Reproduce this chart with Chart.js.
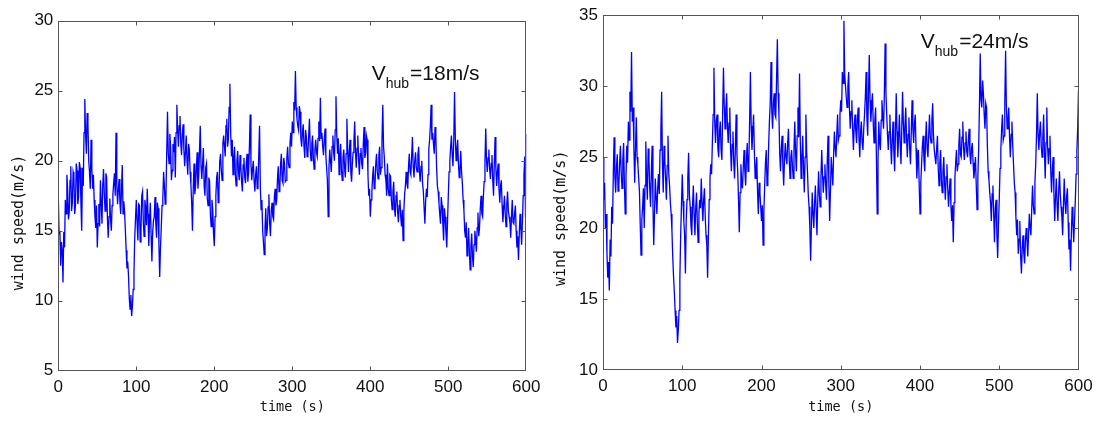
<!DOCTYPE html>
<html><head><meta charset="utf-8">
<script src="https://cdn.jsdelivr.net/npm/chart.js@4.4.0/dist/chart.umd.min.js"></script>
<style>
html,body{margin:0;padding:0;background:#fff;}
#wrap{position:relative;width:1101px;height:424px;overflow:hidden;}
canvas{position:absolute;top:0;}
</style></head><body>
<div id="wrap">
<canvas id="c1" width="550" height="424" style="left:0"></canvas>
<canvas id="c2" width="551" height="424" style="left:550px"></canvas>
</div>
<script>
// ---- data ----
const timeStep = 1; // seconds between samples
const xTickLabels = [0, 100, 200, 300, 400, 500, 600];
const yTickLabels18 = [5, 10, 15, 20, 25, 30];
const yTickLabels24 = [10, 15, 20, 25, 30, 35];
const xTitle = 'time (s)';
const yTitle = 'wind speed(m/s)';
const note18 = ['V', 'hub', '=18m/s'];
const note24 = ['V', 'hub', '=24m/s'];

const wind18 = [
17.5,14.8,15.0,12.5,14.2,13.6,11.3,14.9,13.8,17.2,16.2,19.0,17.9,15.8,16.3,18.6,19.6,16.4,17.0,19.2,
18.9,16.2,16.8,19.8,19.3,16.9,17.4,19.9,19.5,17.0,15.0,19.5,18.2,22.0,24.4,21.8,20.5,23.4,22.6,20.0,
19.2,18.0,21.5,19.5,18.0,19.0,17.2,16.0,15.2,16.8,13.8,15.5,16.9,15.3,18.6,17.0,15.5,18.3,19.4,17.6,
16.4,19.1,18.8,15.8,14.5,16.0,17.3,15.8,15.0,16.8,17.6,18.4,19.1,17.5,22.0,18.2,16.9,18.0,18.7,17.0,
16.2,17.9,19.7,16.2,17.1,16.3,15.0,13.6,12.3,12.8,11.8,10.2,9.4,10.4,8.9,9.6,10.8,12.0,14.5,15.9,
17.2,15.6,14.3,16.9,16.8,14.2,15.0,17.5,17.8,15.6,14.6,17.2,16.6,15.4,18.0,16.2,13.9,15.8,17.0,14.6,
12.8,14.9,15.7,16.0,17.4,15.5,14.5,17.0,16.6,14.0,11.7,13.8,15.2,16.8,17.3,19.2,18.2,16.9,17.5,20.6,
23.5,20.5,19.8,21.9,21.0,18.6,19.3,21.2,20.6,21.7,18.8,22.0,24.0,22.2,21.0,22.5,23.2,21.3,20.4,21.9,
22.6,20.8,19.6,20.6,21.8,20.0,19.0,21.2,20.8,19.2,18.3,17.0,15.0,18.0,19.8,17.6,18.2,19.4,20.6,18.0,
18.9,20.7,22.5,19.6,18.7,19.8,20.9,18.2,17.5,19.5,19.8,17.3,16.8,18.8,18.5,16.1,15.3,17.2,16.5,14.8,
13.9,16.0,17.5,18.8,19.2,17.0,17.8,20.0,20.5,19.3,18.6,21.2,21.8,21.0,20.3,22.5,23.0,21.0,21.5,23.8,
25.5,22.0,20.3,21.5,19.0,20.2,21.0,19.0,18.2,20.0,20.7,19.2,18.6,20.4,19.5,18.5,17.8,19.7,20.2,18.8,
18.4,19.8,20.5,18.5,19.2,21.0,23.3,19.8,18.6,19.4,20.0,18.6,17.8,19.0,19.6,18.0,18.3,20.4,22.5,18.2,
16.5,17.2,15.0,14.2,13.3,15.2,16.6,14.6,15.2,16.7,17.6,15.5,14.6,16.4,17.0,16.0,15.8,17.4,18.0,16.8,
17.2,18.7,19.6,17.8,18.0,19.8,20.5,18.6,18.4,20.2,19.8,18.5,18.6,20.2,21.0,19.8,19.5,21.2,22.0,21.0,
22.8,22.0,24.2,23.6,26.4,23.8,23.0,22.5,22.2,23.9,23.5,21.6,21.0,22.0,22.6,21.0,20.2,22.2,21.7,20.3,
20.5,21.8,23.0,20.8,20.0,21.2,21.8,20.2,19.4,20.8,21.5,20.6,20.3,21.6,22.8,21.4,24.5,21.6,22.0,21.0,
20.4,21.5,22.3,20.4,19.5,18.6,16.0,19.5,20.8,20.0,19.2,21.0,21.8,20.6,20.0,22.2,24.6,21.8,20.5,21.6,
19.0,20.4,21.2,19.4,18.6,20.2,20.8,19.5,18.8,20.5,23.0,20.8,19.2,20.6,21.5,19.2,18.5,19.8,20.6,21.4,
22.8,20.6,19.5,20.9,21.8,20.1,19.0,20.5,20.9,19.8,19.4,21.2,22.4,20.2,20.5,21.8,21.5,19.0,17.5,18.0,
16.0,17.2,17.8,18.9,19.6,18.0,18.2,19.8,20.5,19.2,18.7,20.4,21.0,19.0,19.5,21.5,24.0,21.0,20.2,19.0,
18.6,17.5,19.8,18.0,17.5,19.0,18.9,17.2,16.5,17.8,18.5,16.6,16.0,17.5,17.8,16.4,15.6,16.8,17.2,16.0,
15.3,16.5,14.3,16.4,17.6,18.2,19.2,18.4,18.0,19.6,20.5,19.2,19.0,20.3,21.7,19.6,18.8,20.0,20.6,19.5,
19.2,20.4,21.0,19.2,18.5,19.6,20.0,18.4,17.8,16.6,15.5,17.2,18.0,17.4,19.0,20.8,21.5,22.5,24.0,21.5,
22.0,21.2,20.5,22.4,21.8,19.5,18.2,17.8,17.0,16.2,15.5,17.4,16.8,15.5,14.3,16.6,16.0,14.8,13.8,15.6,
17.5,19.2,20.0,21.0,21.8,20.4,19.6,21.4,24.9,21.6,20.0,20.8,21.5,19.8,18.8,19.4,20.7,19.2,18.4,17.2,
16.5,15.0,14.5,15.6,13.2,14.0,15.2,13.5,12.2,13.9,14.8,13.2,12.4,14.0,15.0,14.4,13.5,15.2,16.3,14.6,
15.2,16.6,17.5,16.2,16.0,17.5,18.5,20.0,22.3,20.0,19.2,20.2,20.8,19.4,18.7,19.8,20.4,18.6,17.5,19.8,
21.7,19.5,18.2,19.2,19.8,18.0,17.0,18.2,18.6,16.8,15.6,16.6,17.5,16.2,15.3,16.9,17.8,16.4,16.0,15.6,
14.5,16.0,17.2,15.6,15.5,16.2,16.8,15.0,13.8,14.6,12.9,14.8,16.2,15.2,14.0,15.6,17.5,19.0,20.3,16.0,
21.9];

const wind24 = [
25.0,22.0,23.2,20.0,21.0,18.2,16.5,17.6,15.6,19.2,18.0,21.5,20.3,23.8,26.4,23.6,22.5,24.3,25.2,22.6,
23.0,24.6,25.8,23.9,22.8,24.8,26.0,23.2,21.0,23.6,25.8,24.6,27.5,26.2,29.6,28.2,32.4,27.5,28.5,25.6,
23.2,25.6,27.8,25.0,24.5,23.5,22.6,20.2,18.1,20.6,21.5,22.8,20.0,23.0,26.1,23.4,22.0,25.6,24.8,22.8,
21.5,23.9,25.8,21.8,18.8,21.0,23.5,22.2,21.0,22.8,23.8,22.4,25.5,26.8,29.6,24.6,22.5,25.8,24.8,23.5,
22.0,24.4,26.5,23.8,23.0,21.8,21.0,19.8,18.0,16.6,15.5,14.2,13.0,13.8,11.9,12.8,14.2,16.5,19.5,21.6,
23.8,21.9,20.5,19.5,16.8,20.5,22.0,23.5,25.3,22.4,21.5,20.2,19.5,21.6,23.0,21.0,19.5,21.4,22.5,20.4,
19.0,21.0,22.0,21.4,23.5,21.8,20.5,22.0,22.8,20.8,19.5,18.8,16.5,19.5,22.0,23.5,24.5,23.8,26.0,28.0,
31.3,27.5,26.0,27.6,28.0,25.6,25.0,26.8,27.5,25.5,24.8,28.2,31.3,28.6,27.0,28.4,29.5,27.2,26.0,27.4,
28.5,25.5,24.0,25.9,26.8,24.6,23.5,25.6,28.0,25.2,24.0,22.0,19.7,22.5,24.5,23.2,22.8,24.3,25.5,24.0,
23.0,24.8,26.0,24.0,24.5,27.5,31.0,27.2,25.5,26.8,28.0,25.4,23.5,24.2,25.0,22.6,21.0,23.2,22.5,21.5,
20.5,21.6,18.8,21.2,23.0,24.6,25.5,23.0,23.5,25.8,27.5,28.8,31.7,28.2,27.0,28.8,29.5,28.0,27.8,30.5,
33.3,29.5,28.0,25.2,24.0,25.6,26.5,24.4,23.0,24.8,26.0,25.0,24.5,26.0,27.0,24.8,23.5,25.0,25.5,24.4,
23.5,25.6,27.5,25.2,24.0,26.5,28.5,26.4,30.9,26.0,23.5,25.0,26.5,24.3,22.5,25.0,28.0,25.4,24.0,22.4,
21.5,20.0,17.7,20.2,22.5,21.0,20.0,21.8,23.0,21.2,19.5,22.0,24.0,22.4,21.5,23.6,25.5,23.8,22.5,23.6,
24.5,23.0,22.0,24.8,26.5,23.2,20.5,22.6,25.0,24.0,23.0,25.2,26.8,25.6,25.0,26.6,28.0,26.2,26.5,28.0,
29.0,28.2,31.0,30.2,34.6,30.8,30.0,29.2,28.5,30.0,31.0,28.4,27.0,28.2,29.0,27.0,25.5,27.2,28.0,26.8,
26.0,27.6,28.5,26.4,25.0,26.8,27.5,26.0,25.5,27.0,28.0,29.2,31.0,27.8,26.5,29.5,32.2,29.0,27.5,28.6,
29.5,27.4,26.0,27.6,28.5,25.0,21.0,24.8,27.5,26.0,25.5,27.6,29.0,27.8,27.0,29.4,33.0,29.6,28.0,26.6,
25.5,26.8,28.0,26.0,24.5,26.2,27.5,25.4,24.0,26.5,29.5,26.8,25.0,26.4,28.0,26.0,24.5,27.0,29.6,27.4,
26.0,27.2,28.5,26.4,25.0,26.6,27.8,25.6,24.5,26.8,29.0,27.0,26.0,27.4,28.0,25.6,23.5,24.8,25.5,23.0,
21.0,23.2,24.5,25.8,26.5,24.8,24.0,26.2,27.5,25.6,25.0,26.6,28.0,26.4,26.0,27.6,28.8,26.6,25.5,25.0,
24.5,25.6,26.5,24.2,23.0,24.6,25.5,23.4,22.5,24.0,25.0,23.2,22.0,23.6,24.5,22.8,21.5,22.6,23.5,21.6,
20.5,21.6,19.0,21.8,23.5,24.6,25.5,24.0,24.5,25.8,27.0,25.2,25.0,26.4,27.5,25.6,24.8,26.0,26.8,25.4,
25.0,26.2,27.0,25.2,24.5,25.6,26.0,24.6,23.5,24.2,25.0,23.0,21.3,23.6,25.5,28.6,32.3,29.0,28.5,30.4,
29.5,28.0,27.0,28.8,28.5,25.8,24.0,23.4,22.5,21.8,20.5,22.4,23.0,21.0,19.0,21.4,22.0,19.6,17.9,20.2,
22.0,24.2,25.5,27.0,28.0,26.2,26.5,28.8,32.5,28.6,27.0,27.6,28.5,26.4,25.0,26.6,27.5,25.8,24.5,23.2,
22.5,20.8,19.5,20.6,18.2,19.2,20.5,18.0,16.8,18.6,19.5,18.2,17.5,19.0,20.0,19.2,18.0,19.6,21.0,20.0,
19.5,21.4,23.0,21.6,21.0,23.2,24.5,26.5,29.5,26.6,25.5,26.8,27.5,25.8,25.0,26.4,28.0,25.4,23.5,26.0,
28.5,25.8,24.5,25.6,26.5,24.0,22.5,24.2,25.0,22.4,20.5,22.2,23.5,21.6,20.5,22.6,24.0,22.4,21.5,20.8,
19.5,21.6,23.5,21.8,21.0,22.2,22.8,20.4,18.5,19.2,17.0,19.6,21.5,20.4,19.0,20.6,22.0,23.8,25.5,27.0,
29.7];

// ---- styling / layout ----
const TICK_FONT = {family: '"Liberation Sans", Arial, sans-serif', size: 17};
const TITLE_FONT = {family: '"DejaVu Sans Mono", monospace', size: 13.5};
const INK = '#111';

const framePlugin = {
  id: 'frame',
  afterDatasetsDraw(chart, args, o) {
    const {ctx, chartArea: a, scales: {x, y}} = chart;
    ctx.save();
    ctx.strokeStyle = '#555';
    ctx.lineWidth = 1;
    const L = Math.round(a.left) + 0.5, R = Math.round(a.right) - 0.5;
    const T = Math.round(a.top) + 0.5, B = Math.round(a.bottom) - 0.5;
    ctx.strokeRect(L, T, R - L, B - T);
    ctx.beginPath();
    x.ticks.forEach(t => {
      const px = Math.round(x.getPixelForValue(t.value)) + 0.5;
      if (px <= L + 1 || px >= R - 1) return;
      ctx.moveTo(px, B); ctx.lineTo(px, B - 4);
      ctx.moveTo(px, T); ctx.lineTo(px, T + 4);
    });
    y.ticks.forEach(t => {
      const py = Math.round(y.getPixelForValue(t.value)) + 0.5;
      if (py <= T + 1 || py >= B - 1) return;
      ctx.moveTo(L, py); ctx.lineTo(L + 4, py);
      ctx.moveTo(R, py); ctx.lineTo(R - 4, py);
    });
    ctx.stroke();
    // y-axis title
    ctx.save();
    ctx.translate(o.yTitleX, o.yTitleY);
    ctx.rotate(-Math.PI / 2);
    ctx.font = '15px "DejaVu Sans Mono", monospace';
    ctx.fillStyle = INK;
    ctx.textAlign = 'center';
    ctx.textBaseline = 'middle';
    ctx.fillText(yTitle, 0, 0);
    ctx.restore();
    // annotation
    const n = o.note;
    let nx = x.getPixelForValue(o.noteT), ny = y.getPixelForValue(o.noteV);
    ctx.fillStyle = INK;
    ctx.textBaseline = 'alphabetic';
    ctx.textAlign = 'left';
    ctx.font = '21px "Liberation Sans", Arial, sans-serif';
    ctx.fillText(n[0], nx, ny);
    nx += ctx.measureText(n[0]).width;
    ctx.font = '14px "Liberation Sans", Arial, sans-serif';
    ctx.fillText(n[1], nx, ny + 8);
    nx += ctx.measureText(n[1]).width + 1;
    ctx.font = '21px "Liberation Sans", Arial, sans-serif';
    ctx.fillText(n[2], nx, ny);
    ctx.restore();
  }
};

function makeChart(id, values, yTicks, box, note, noteT, noteV, yTitleX, yTitleY) {
  const canvas = document.getElementById(id);
  const W = canvas.width, H = canvas.height;
  const pts = values.map((v, i) => ({x: i * timeStep, y: v}));
  return new Chart(canvas, {
    type: 'line',
    data: {datasets: [{data: pts, borderColor: '#0000ff', borderWidth: 1.3,
      pointRadius: 0, tension: 0, fill: false}]},
    options: {
      responsive: false, animation: false, events: [],
      layout: {padding: {left: 0, top: box.top, right: W - box.right, bottom: 0}},
      plugins: {legend: {display: false}, tooltip: {enabled: false},
        frame: {note, noteT, noteV, yTitleX, yTitleY}},
      scales: {
        x: {type: 'linear', min: xTickLabels[0], max: xTickLabels[xTickLabels.length - 1],
          afterBuildTicks: s => { s.ticks = xTickLabels.map(v => ({value: v})); },
          afterFit: s => { s.height = H - box.bottom; },
          grid: {display: false, drawTicks: false}, border: {display: false},
          ticks: {font: TICK_FONT, color: INK, padding: 6, maxRotation: 0, autoSkip: false},
          title: {display: true, text: xTitle, font: TITLE_FONT, color: INK,
            padding: {top: 0, bottom: 8}}},
        y: {type: 'linear', min: yTicks[0], max: yTicks[yTicks.length - 1],
          afterBuildTicks: s => { s.ticks = yTicks.map(v => ({value: v})); },
          afterFit: s => { s.width = box.left; },
          grid: {display: false, drawTicks: false}, border: {display: false},
          ticks: {font: TICK_FONT, color: INK, padding: 5, autoSkip: false}}
      }
    },
    plugins: [framePlugin]
  });
}

makeChart('c1', wind18, yTickLabels18, {left: 58.3, right: 526.3, top: 20.7, bottom: 370.7},
  note18, 401.8, 25.76, 19, 222.5);
makeChart('c2', wind24, yTickLabels24, {left: 53, right: 528.5, top: 13.7, bottom: 370},
  note24, 401, 32.69, 11.6, 218.3);
</script>
</body></html>
